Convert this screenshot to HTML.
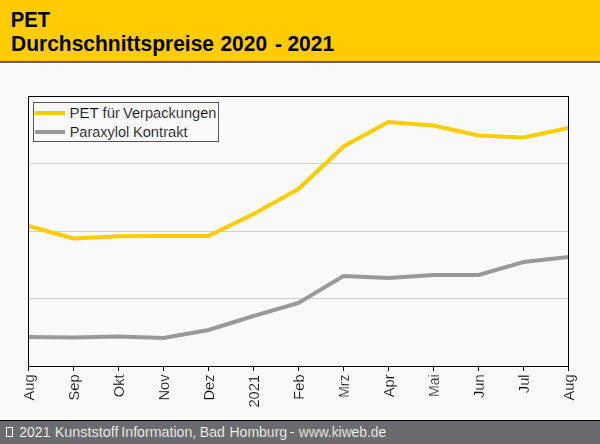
<!DOCTYPE html>
<html><head><meta charset="utf-8">
<style>
html,body{margin:0;padding:0;}
body{width:600px;height:444px;background:#f9f9f9;overflow:hidden;position:relative;font-family:"Liberation Sans",sans-serif;}
svg{position:absolute;left:0;top:0;}
svg text{font-family:"Liberation Sans",sans-serif;}
</style></head><body>
<svg width="600" height="444" viewBox="0 0 600 444">
<!-- header -->
<rect x="0" y="0" width="600" height="61" fill="#ffcc00"/>
<rect x="0" y="61" width="600" height="2" fill="#5f5f72"/>
<rect x="0" y="63" width="600" height="1" fill="#ffffff"/>
<g font-size="21.33" font-weight="bold" fill="#000">
<text transform="translate(10.8,27) scale(0.95,1)">PET</text>
<text transform="translate(11,51) scale(0.985,1)">Durchschnittspreise</text>
<text transform="translate(220.4,51) scale(0.985,1)">2020</text>
<text transform="translate(275,51) scale(0.985,1)">-</text>
<text transform="translate(287.4,51) scale(0.985,1)">2021</text>
</g>
<!-- grid -->
<g stroke="#d0d0d0" stroke-width="1" shape-rendering="crispEdges">
<line x1="29" y1="163.5" x2="568" y2="163.5"/>
<line x1="29" y1="231.5" x2="568" y2="231.5"/>
<line x1="29" y1="298.5" x2="568" y2="298.5"/>
</g>
<polyline fill="none" stroke="#ffcc00" stroke-width="4" stroke-linejoin="miter" points="28.5,226 73.5,238.4 118.5,236.3 163.5,236 208.5,236 253.5,214 298.5,189 343.5,146.5 388.5,122 433.5,125.5 478.5,135.5 523.5,137.5 568.5,128"/>
<polyline fill="none" stroke="#999999" stroke-width="4" stroke-linejoin="miter" points="28.5,337 73.5,337.5 118.5,336.5 163.5,338 208.5,330 253.5,316 298.5,303 343.5,276 388.5,278 433.5,275 478.5,275 523.5,262 568.5,257"/>
<rect x="28.5" y="96.5" width="540" height="270" fill="none" stroke="#000" stroke-width="1" shape-rendering="crispEdges"/>
<g stroke="#000" stroke-width="1" shape-rendering="crispEdges">
<line x1="28.5" y1="366" x2="28.5" y2="371"/><line x1="73.5" y1="366" x2="73.5" y2="371"/><line x1="118.5" y1="366" x2="118.5" y2="371"/><line x1="163.5" y1="366" x2="163.5" y2="371"/><line x1="208.5" y1="366" x2="208.5" y2="371"/><line x1="253.5" y1="366" x2="253.5" y2="371"/><line x1="298.5" y1="366" x2="298.5" y2="371"/><line x1="343.5" y1="366" x2="343.5" y2="371"/><line x1="388.5" y1="366" x2="388.5" y2="371"/><line x1="433.5" y1="366" x2="433.5" y2="371"/><line x1="478.5" y1="366" x2="478.5" y2="371"/><line x1="523.5" y1="366" x2="523.5" y2="371"/><line x1="568.5" y1="366" x2="568.5" y2="371"/>
</g>
<!-- legend -->
<rect x="33.5" y="102.5" width="185" height="39" fill="#f9f9f9" stroke="#555" stroke-width="1" shape-rendering="crispEdges"/>
<line x1="35" y1="113" x2="65" y2="113" stroke="#ffcc00" stroke-width="4"/>
<line x1="35" y1="132" x2="65" y2="132" stroke="#999" stroke-width="4"/>
<g font-size="15" fill="#000" stroke="#f9f9f9" stroke-width="0.2">
<text x="69.6" y="118">PET</text>
<text x="102.6" y="118">für</text>
<text transform="translate(123,118) scale(0.975,1)">Verpackungen</text>
<text transform="translate(69.7,137) scale(0.965,1)">Paraxylol</text>
<text transform="translate(132.9,137) scale(0.98,1)">Kontrakt</text>
</g>
<!-- footer -->
<rect x="0" y="419" width="600" height="1" fill="#ffffff"/>
<rect x="0" y="420" width="600" height="1" fill="#000000"/>
<rect x="0" y="421" width="600" height="23" fill="#6a6b6f"/>
<rect x="6.5" y="427.5" width="6" height="9" fill="none" stroke="#fff" stroke-width="1" shape-rendering="crispEdges"/>
<g font-size="14" fill="#fff" stroke="#6a6b6f" stroke-width="0.2">
<text transform="translate(19.3,437) scale(1,1)">2021</text>
<text transform="translate(54.7,437) scale(1.03,1)">Kunststoff</text>
<text transform="translate(121.3,437) scale(1.015,1)">Information,</text>
<text transform="translate(199.8,437) scale(1,1)">Bad</text>
<text transform="translate(229.5,437) scale(1,1)">Homburg</text>
<text transform="translate(289.8,437) scale(1,1)">-</text>
<text transform="translate(298.8,437) scale(0.985,1)">www.kiweb.de</text>
</g>
</svg>
<svg id="xl" width="600" height="444" viewBox="0 0 600 444" style="will-change:transform">
<g font-size="14.67" fill="#000" text-anchor="end" stroke="#f9f9f9" stroke-width="0.2">
<text transform="translate(33.5,374.4) rotate(-90)">Aug</text>
<text transform="translate(78.5,374.4) rotate(-90)">Sep</text>
<text transform="translate(123.5,374.4) rotate(-90)">Okt</text>
<text transform="translate(168.5,374.4) rotate(-90)">Nov</text>
<text transform="translate(213.5,374.4) rotate(-90)">Dez</text>
<text transform="translate(258.5,375) rotate(-90)">2021</text>
<text transform="translate(303.5,374.4) rotate(-90)">Feb</text>
<text transform="translate(348.5,374.4) rotate(-90) scale(0.96,1)">Mrz</text>
<text transform="translate(393.5,374.4) rotate(-90)">Apr</text>
<text transform="translate(438.5,374.4) rotate(-90) scale(0.96,1)">Mai</text>
<text transform="translate(483.5,374.4) rotate(-90)">Jun</text>
<text transform="translate(528.5,374.4) rotate(-90)">Jul</text>
<text transform="translate(573.5,374.4) rotate(-90)">Aug</text>
</g>
</svg>
</body></html>
